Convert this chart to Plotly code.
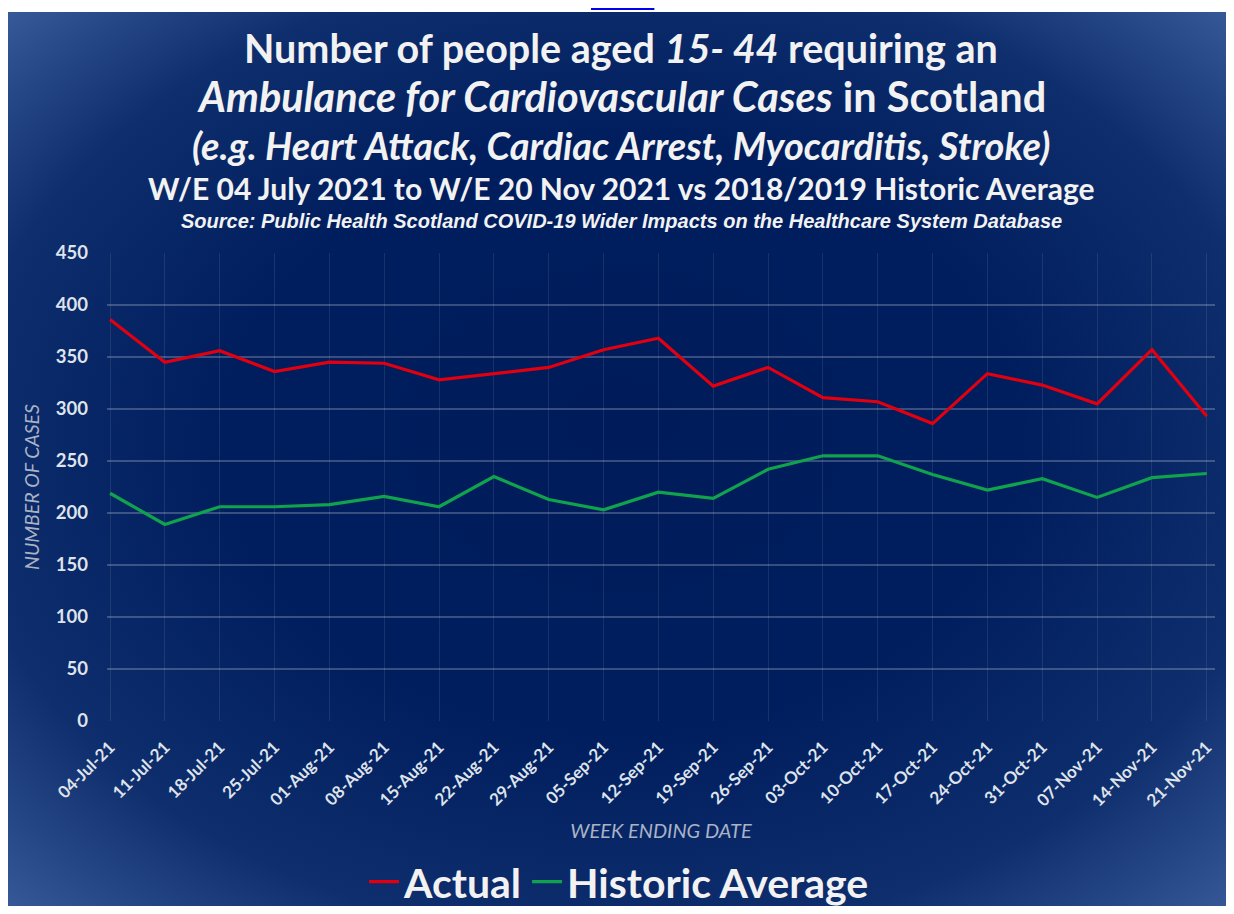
import base64
import plotly.graph_objects as go

weeks = ["04-Jul-21", "11-Jul-21", "18-Jul-21", "25-Jul-21", "01-Aug-21", "08-Aug-21",
         "15-Aug-21", "22-Aug-21", "29-Aug-21", "05-Sep-21", "12-Sep-21", "19-Sep-21",
         "26-Sep-21", "03-Oct-21", "10-Oct-21", "17-Oct-21", "24-Oct-21", "31-Oct-21",
         "07-Nov-21", "14-Nov-21", "21-Nov-21"]
actual = [386, 345, 356, 336, 345, 344, 328, 334, 340, 357, 368, 322, 340, 311, 307,
          286, 334, 323, 305, 357, 293]
historic = [219, 189, 206, 206, 208, 216, 206, 235, 213, 203, 220, 214, 242, 255, 255,
            237, 222, 233, 215, 234, 238]
y_ticks = [0, 50, 100, 150, 200, 250, 300, 350, 400, 450]

# page body has an 8px margin; figure sized so the page fits the window
OFF = 8
W, H = 1234 - 2 * OFF, 914 - 2 * OFF
L, R, T, B = 107, 1215, 253, 721  # plot area box in window pixels


def px_x(p):
    return (p - L) / (R - L)


def px_y(p):
    return (B - p) / (B - T)


def cont_x(p):
    return (p - OFF) / W


def cont_y(p):
    return (H - (p - OFF)) / H


svg = """<svg xmlns='http://www.w3.org/2000/svg' width='1226' height='902' preserveAspectRatio='none'>
<defs><radialGradient id='g' cx='50%' cy='50%' r='72%' fx='50%' fy='45%'>
<stop offset='0%' stop-color='#001b5a'/>
<stop offset='45%' stop-color='#001e5e'/>
<stop offset='75%' stop-color='#0f2e6d'/>
<stop offset='100%' stop-color='#3a5d9c'/>
</radialGradient></defs>
<rect width='1226' height='902' fill='url(#g)'/>
</svg>"""
bg_src = "data:image/svg+xml;base64," + base64.b64encode(svg.encode()).decode()

fig = go.Figure()
fig.add_trace(go.Scatter(x=weeks, y=actual, name="Actual", mode="lines",
                         line=dict(color="#e0000f", width=3.2)))
fig.add_trace(go.Scatter(x=weeks, y=historic, name="Historic Average", mode="lines",
                         line=dict(color="#10a24c", width=3.2)))

fig.add_layout_image(dict(source=bg_src, xref="paper", yref="paper",
                          x=px_x(8), y=px_y(12), sizex=(1234 - 8) / (R - L),
                          sizey=(914 - 12) / (B - T), sizing="stretch",
                          xanchor="left", yanchor="top", layer="below"))

title_font = "Lato, 'Open Sans', sans-serif"
cx = px_x(621)
annots = [
    ("<b>Number of people aged <i>15- 44</i> requiring an</b>", 47, 39.5, title_font),
    ("<b><i>Ambulance for Cardiovascular Cases</i> in Scotland</b>", 96, 41.5, title_font),
    ("<b><i>(e.g. Heart Attack, Cardiac Arrest, Myocarditis, Stroke)</i></b>", 145, 38, title_font),
    ("<b>W/E 04 July 2021 to W/E 20 Nov 2021 vs 2018/2019 Historic Average</b>", 188, 30, title_font),
    ("<b><i>Source: Public Health Scotland COVID-19 Wider Impacts on the Healthcare System Database</i></b>",
     221, 20, "'Liberation Sans', Arial, sans-serif"),
]
for text, py, size, fam in annots:
    fig.add_annotation(text=text, xref="paper", yref="paper", x=cx, y=px_y(py),
                       xanchor="center", yanchor="middle", showarrow=False,
                       font=dict(size=size, family=fam, color="#f2f2f2"))

fig.add_annotation(text="<u>Source</u>", xref="paper", yref="paper", x=px_x(622), y=px_y(13),
                   xanchor="center", yanchor="bottom", showarrow=False,
                   font=dict(size=20, family="'Liberation Sans', Arial, sans-serif", color="#0000ee"))

fig.update_layout(
    width=W, height=H,
    margin=dict(l=L - OFF, r=W - (R - OFF), t=T - OFF, b=H - (B - OFF), pad=0),
    paper_bgcolor="white",
    plot_bgcolor="rgba(0,0,0,0)",
    showlegend=True,
    legend=dict(orientation="h", xref="container", yref="container",
                x=cont_x(619), y=cont_y(882), xanchor="center", yanchor="middle",
                font=dict(size=41, family=title_font, color="#f2f2f2", weight="bold"),
                bgcolor="rgba(0,0,0,0)", itemwidth=30, tracegroupgap=0),
    xaxis=dict(
        type="category", range=[-0.055, 20.15], automargin=False,
        tickangle=-45, showgrid=True, gridcolor="rgba(255,255,255,0.09)", gridwidth=1,
        tickfont=dict(size=17, family=title_font, color="#dfe3ea", weight="bold"),
        ticks="", showline=False, zeroline=False, ticklabelstandoff=12,
        title=dict(text="<i>WEEK ENDING DATE</i>", standoff=14,
                   font=dict(size=20, family=title_font, color="#aab3c6")),
    ),
    yaxis=dict(
        range=[0, 450], tickvals=y_ticks, showgrid=True, automargin=False,
        gridcolor="rgba(255,255,255,0.22)", gridwidth=1.5,
        tickfont=dict(size=18.5, family=title_font, color="#dfe3ea", weight="bold"),
        ticks="", showline=False, zeroline=False, ticklabelstandoff=18,
        title=dict(text="<i>NUMBER OF CASES</i>", standoff=10,
                   font=dict(size=19.5, family=title_font, color="#aab3c6")),
    ),
)

fig.write_html("out.html")
